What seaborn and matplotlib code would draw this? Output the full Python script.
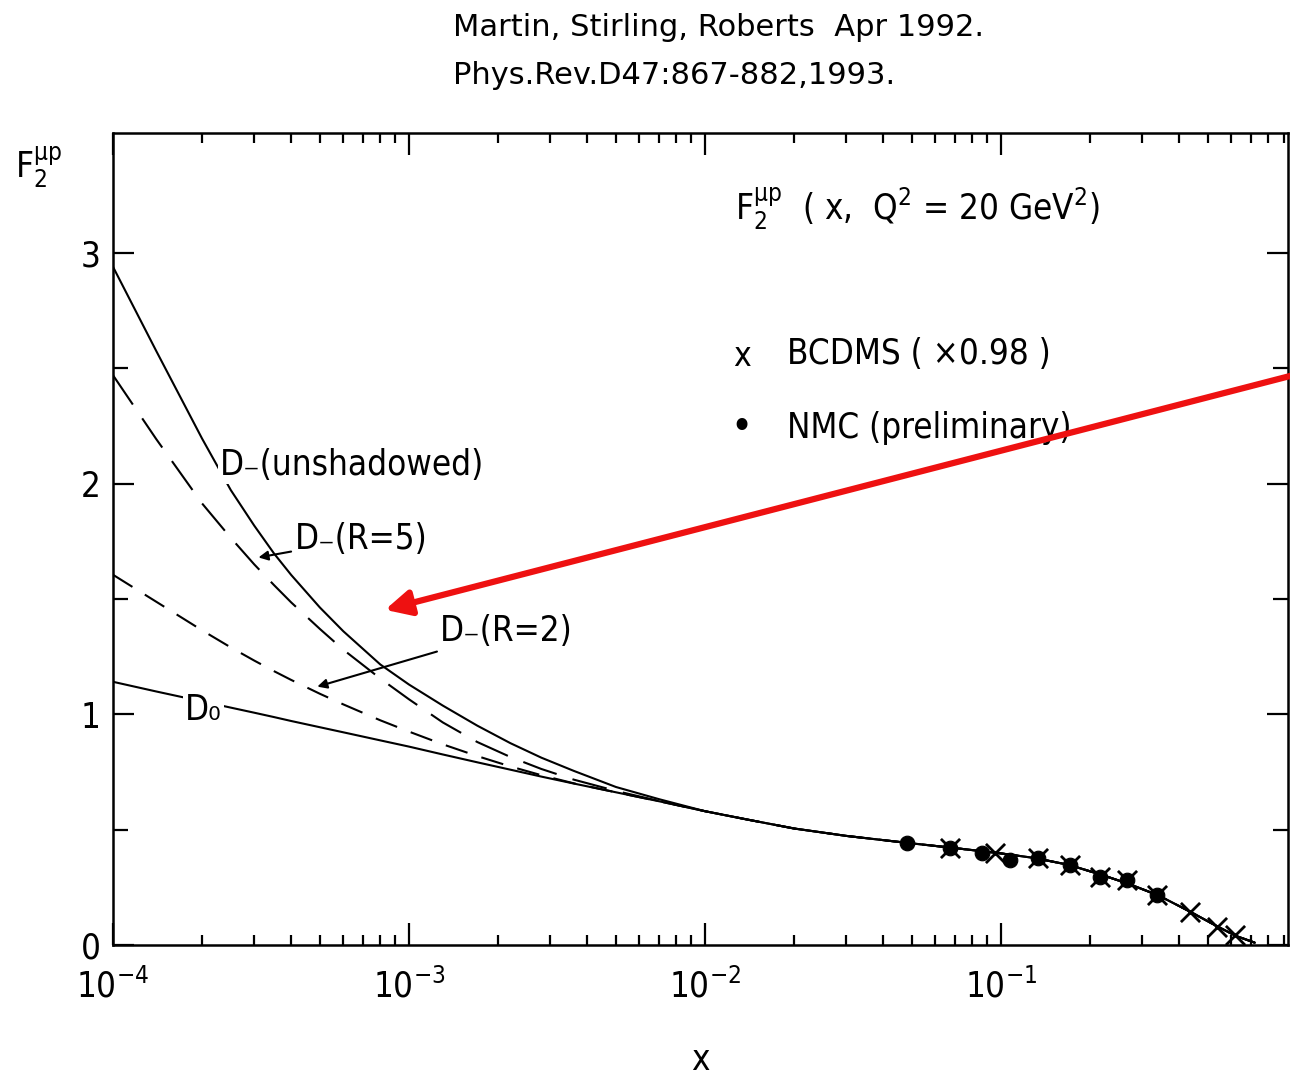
import numpy as np
import pandas as pd
import matplotlib
matplotlib.use("Agg")
import matplotlib.pyplot as plt
from matplotlib.ticker import LogLocator, FixedLocator, NullFormatter, FuncFormatter
import seaborn as sns

# F2 (x, Q^2 = 20 GeV^2) predictions on a common x grid
x_grid = [1e-4, 1.4e-4, 2e-4, 2.5e-4, 3e-4, 3.5e-4, 4e-4, 5e-4, 6e-4, 8e-4,
          1e-3, 1.3e-3, 1.7e-3, 2.2e-3, 2.8e-3, 3.6e-3, 5e-3, 7e-3,
          1e-2, 1.4e-2, 2e-2, 3e-2, 4.8e-2, 7e-2, 0.1, 0.13, 0.17,
          0.22, 0.27, 0.34, 0.43, 0.53, 0.62, 0.72]
# shared behaviour above x = 1e-2
tail = [0.58, 0.543, 0.505, 0.473, 0.443, 0.42, 0.397, 0.377, 0.347,
        0.303, 0.265, 0.215, 0.148, 0.085, 0.04, 0.01]
f2_unshadowed = [2.94, 2.575, 2.195, 1.972, 1.818, 1.697, 1.604, 1.463, 1.36, 1.216,
                 1.129, 1.038, 0.951, 0.875, 0.812, 0.755, 0.685, 0.632] + tail
f2_r5 = [2.47, 2.193, 1.914, 1.765, 1.65, 1.56, 1.485, 1.37, 1.28, 1.155,
         1.065, 0.965, 0.88, 0.815, 0.763, 0.717, 0.668, 0.624] + tail
f2_r2 = [1.605, 1.488, 1.364, 1.29, 1.233, 1.187, 1.149, 1.089, 1.043, 0.974,
         0.925, 0.87, 0.819, 0.774, 0.736, 0.701, 0.662, 0.623] + tail
f2_d0 = [1.141, 1.099, 1.056, 1.029, 1.007, 0.988, 0.971, 0.944, 0.922, 0.887,
         0.86, 0.826, 0.792, 0.76, 0.73, 0.70, 0.662, 0.623] + tail

# Measurements
nmc_x = [0.048, 0.0673, 0.0863, 0.107, 0.133, 0.171, 0.216, 0.267, 0.337]
nmc_f2 = [0.443, 0.42, 0.40, 0.37, 0.377, 0.347, 0.295, 0.282, 0.217]
bcdms_x = [0.0673, 0.0955, 0.133, 0.171, 0.216, 0.267, 0.337, 0.435, 0.537, 0.618]
bcdms_f2 = [0.42, 0.40, 0.377, 0.347, 0.295, 0.282, 0.217, 0.143, 0.078, 0.043]

x_major = [1e-4, 1e-3, 1e-2, 1e-1]
x_major_labels = [r"$10^{-4}$", r"$10^{-3}$", r"$10^{-2}$", r"$10^{-1}$"]
y_major = [0, 1, 2, 3]
y_minor = [0.5, 1.5, 2.5]

sns.set_theme(style="ticks")
plt.rcParams["font.family"] = ["DejaVu Sans"]
plt.rcParams["font.stretch"] = "condensed"
plt.rcParams["mathtext.fontset"] = "dejavusans"
for key in ["text.color", "axes.labelcolor", "xtick.color", "ytick.color", "axes.edgecolor"]:
    plt.rcParams[key] = "black"

fig = plt.figure(figsize=(12.9, 10.8), dpi=100)
ax = fig.add_axes([113 / 1290, 1 - 945 / 1080, (1288 - 113) / 1290, (945 - 133) / 1080])

curves = pd.DataFrame({"x": x_grid, "unsh": f2_unshadowed, "r5": f2_r5,
                       "r2": f2_r2, "d0": f2_d0})
lw = 1.5
sns.lineplot(data=curves, x="x", y="unsh", ax=ax, color="black", lw=lw,
             estimator=None, sort=False, zorder=2)
sns.lineplot(data=curves, x="x", y="r5", ax=ax, color="black", lw=lw,
             linestyle=(0, (17, 8)), estimator=None, sort=False, zorder=2)
sns.lineplot(data=curves, x="x", y="r2", ax=ax, color="black", lw=lw,
             linestyle=(0, (11, 7)), estimator=None, sort=False, zorder=2)
sns.lineplot(data=curves, x="x", y="d0", ax=ax, color="black", lw=lw,
             estimator=None, sort=False, zorder=2)

sns.scatterplot(x=nmc_x, y=nmc_f2, ax=ax, marker="o", s=110, color="black",
                edgecolor="black", zorder=3)
sns.scatterplot(x=bcdms_x, y=bcdms_f2, ax=ax, marker="x", s=190, color="black",
                linewidth=2.0, zorder=4)

ax.set_xscale("log")
ax.set_xlim(1e-4, 0.932)
ax.set_ylim(0, 3.52)
ax.set_xlabel("")
ax.set_ylabel("")

for side in ["left", "right", "top", "bottom"]:
    ax.spines[side].set_visible(True)
    ax.spines[side].set_linewidth(1.8)
    ax.spines[side].set_color("black")

ax.xaxis.set_major_locator(FixedLocator(x_major))
ax.xaxis.set_major_formatter(FuncFormatter(lambda v, p: x_major_labels[p] if p < 4 else ""))
ax.xaxis.set_minor_locator(LogLocator(base=10, subs=np.arange(2, 10), numticks=20))
ax.xaxis.set_minor_formatter(NullFormatter())
ax.yaxis.set_major_locator(FixedLocator(y_major))
ax.yaxis.set_minor_locator(FixedLocator(y_minor))
ax.yaxis.set_minor_formatter(NullFormatter())

ax.tick_params(axis="both", which="both", direction="in", top=True, right=True,
               color="black", width=1.6)
ax.tick_params(axis="x", which="major", length=16, labelsize=25, pad=17)
ax.tick_params(axis="x", which="minor", length=7)
ax.tick_params(axis="y", which="major", length=15, labelsize=25, pad=9)
ax.tick_params(axis="y", which="minor", length=11)

# Curve labels
box = dict(facecolor="white", edgecolor="none", pad=1.5)
lab = 25
ax.text(2.3e-4, 2.08, "D\u208b(unshadowed)", fontsize=lab, va="center", ha="left",
        bbox=box, zorder=5)
ax.text(1.75e-4, 1.02, "D\u2080", fontsize=lab, va="center", ha="left",
        bbox=box, zorder=5)
ax.annotate("D\u208b(R=5)", xy=(3.1e-4, 1.68), xytext=(4.1e-4, 1.76),
            fontsize=lab, va="center", ha="left", zorder=5,
            arrowprops=dict(arrowstyle="-|>", color="black", lw=1.5,
                            mutation_scale=14, shrinkA=0, shrinkB=0))
ax.annotate("D\u208b(R=2)", xy=(4.9e-4, 1.12), xytext=(1.27e-3, 1.36),
            fontsize=lab, va="center", ha="left", zorder=5,
            arrowprops=dict(arrowstyle="-|>", color="black", lw=1.5,
                            mutation_scale=14, shrinkA=0, shrinkB=0))

# Legend block
ax.text(0.0126, 3.19, r"F$_2^{\mathrm{μp}}$  ( x,  Q$^2$ = 20 GeV$^2$)", fontsize=lab,
        va="center", ha="left")
ax.text(0.0133, 2.55, "x", fontsize=24, va="center", ha="center")
ax.text(0.0189, 2.56, "BCDMS ( \u00d70.98 )", fontsize=lab, va="center", ha="left")
ax.text(0.0133, 2.24, "\u2022", fontsize=30, va="center", ha="center")
ax.text(0.0189, 2.24, "NMC (preliminary)", fontsize=lab, va="center", ha="left")

# Red pointer arrow
ax.annotate("", xy=(8.3e-4, 1.453), xytext=(0.97, 2.47), xycoords="data",
            textcoords="data", annotation_clip=False, zorder=6,
            arrowprops=dict(arrowstyle="-|>", color="#ee1111", lw=4.5,
                            mutation_scale=38, shrinkA=0, shrinkB=0))

# Axis titles and reference
fig.text(0.012, 0.845, r"F$_2^{\mathrm{μp}}$", fontsize=25, ha="left", va="center")
fig.text(0.543, 1 - 1060 / 1080, "x", fontsize=25, ha="center", va="center")
fig.text(453 / 1290, 1 - 28 / 1080, "Martin, Stirling, Roberts  Apr 1992.",
         fontsize=22, ha="left", va="center", stretch="normal")
fig.text(453 / 1290, 1 - 75 / 1080, "Phys.Rev.D47:867-882,1993.",
         fontsize=22, ha="left", va="center", stretch="normal")

fig.savefig("out.png", dpi=100, facecolor="white")
